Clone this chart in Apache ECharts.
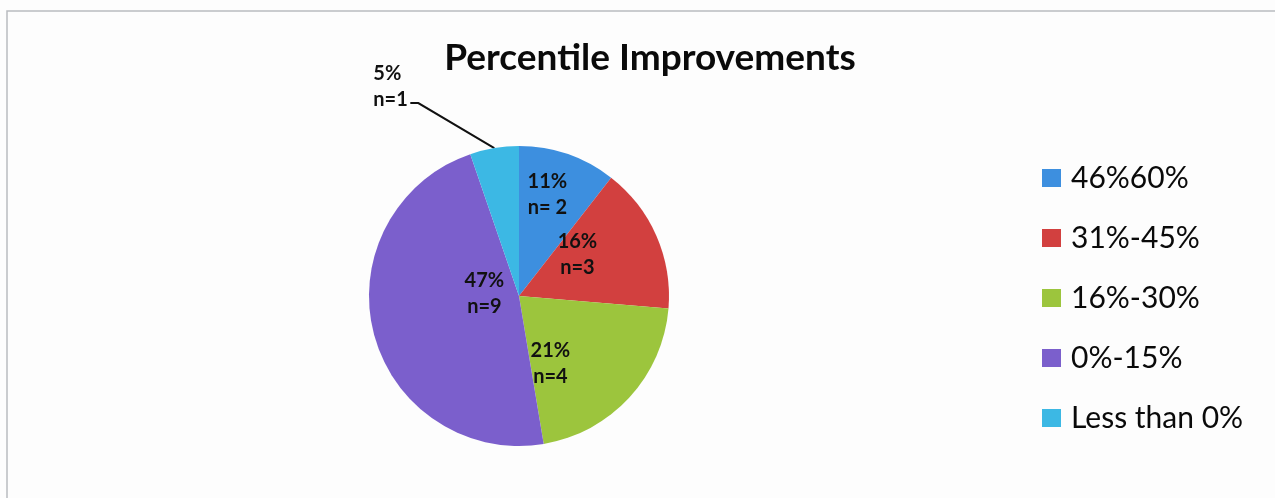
<!DOCTYPE html>
<html>
<head>
<meta charset="utf-8">
<script src="https://cdn.jsdelivr.net/npm/echarts@6/dist/echarts.min.js"></script>
<style>
  html, body { margin: 0; padding: 0; background: #fdfdfd; }
  #chart { width: 1275px; height: 498px; }
</style>
</head>
<body>
<div id="chart"></div>
<script>
var categories = ['46%60%', '31%-45%', '16%-30%', '0%-15%', 'Less than 0%']
var counts = [2, 3, 4, 9, 1]
var percentLabels = ['11%', '16%', '21%', '47%', '5%']

var colors = ['#3d8fdf', '#d2403f', '#9cc53d', '#7b5fcc', '#3cb8e4']
// nudges so the inside labels sit where the original put them
var labelNudge = [[3, -28], [-13, -10], [-26, 15], [41, -22], [0, 0]]

var pieData = categories.map(function (name, i) {
  var item = {
    name: name,
    value: counts[i],
    itemStyle: { color: colors[i] },
    label: {
      formatter: percentLabels[i] + '\nn=' + (i === 0 ? ' ' : '') + counts[i],
      offset: labelNudge[i]
    }
  }
  if (i === 4) {
    item.label = {
      position: 'outside',
      formatter: percentLabels[i] + '\nn=' + counts[i],
      align: 'left'
    }
    item.labelLine = { show: true }
  }
  return item
})

var chart = echarts.init(document.getElementById('chart'))

chart.setOption({
  backgroundColor: '#fdfdfd',
  animation: false,
  title: {
    text: 'Percentile Improvements',
    left: 650,
    top: 40,
    padding: 0,
    textAlign: 'center',
    textStyle: {
      fontFamily: 'Lato',
      fontWeight: 'bold',
      fontSize: 37,
      color: '#0a0a0a'
    }
  },
  legend: {
    orient: 'vertical',
    left: 1042,
    top: 163,
    padding: 0,
    itemWidth: 19,
    itemHeight: 18,
    itemGap: 30,
    icon: 'rect',
    data: categories,
    textStyle: {
      fontFamily: 'Lato',
      fontSize: 30,
      lineHeight: 30,
      color: '#0a0a0a',
      padding: [0, 0, 0, 5]
    }
  },
  graphic: [
    {
      type: 'polyline',
      shape: { points: [[7, 498], [7, 11], [1275, 11]] },
      style: { stroke: '#b9bcc0', lineWidth: 1.5, fill: null }
    }
  ],
  series: [
    {
      type: 'pie',
      center: [519, 296],
      radius: 150,
      startAngle: 90,
      clockwise: true,
      avoidLabelOverlap: false,
      data: pieData,
      label: {
        show: true,
        position: 'inside',
        fontFamily: 'Lato',
        fontWeight: 'bold',
        fontSize: 20,
        lineHeight: 26,
        color: '#111'
      },
      labelLine: {
        show: false,
        lineStyle: { color: '#111', width: 2 }
      },
      labelLayout: function (params) {
        if (params.dataIndex !== 4) return {}
        var edge = params.labelLinePoints[0]
        var elbow = [edge[0] - 76, edge[1] - 45]
        var tail = [elbow[0] - 8, elbow[1]]
        return {
          x: tail[0] - 37,
          y: elbow[1] - 16,
          align: 'left',
          verticalAlign: 'middle',
          labelLinePoints: [edge, elbow, tail]
        }
      }
    }
  ]
})
</script>
</body>
</html>
